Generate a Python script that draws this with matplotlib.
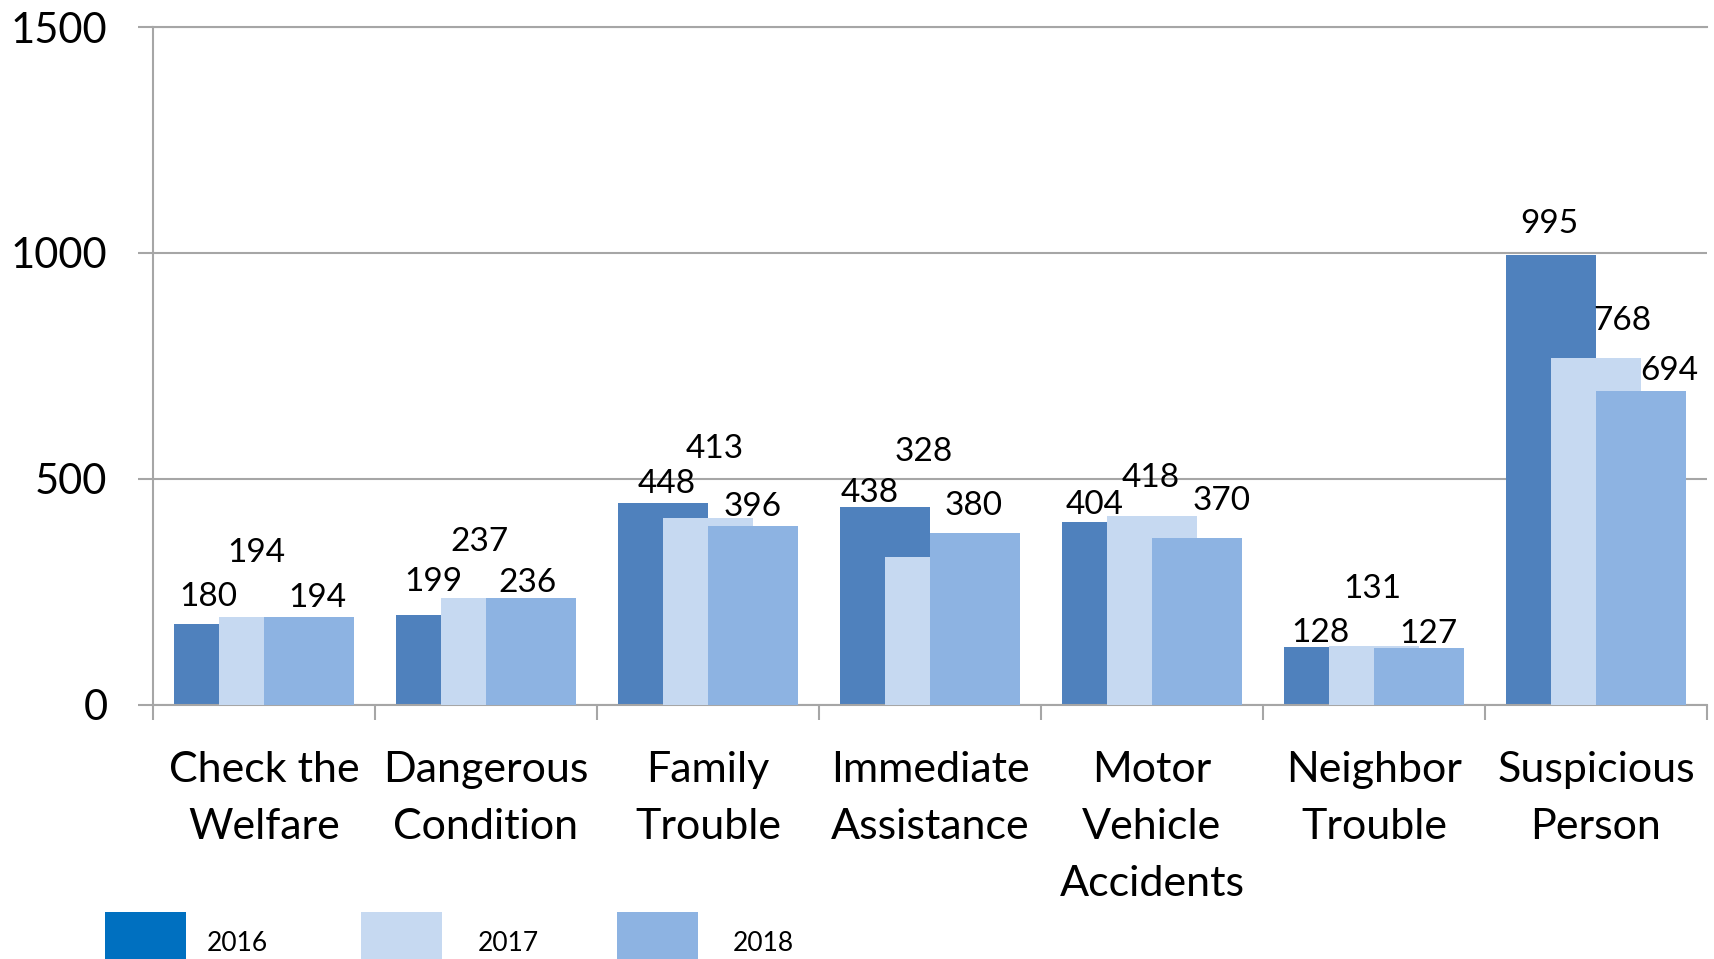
import matplotlib
matplotlib.use('Agg')
import matplotlib.pyplot as plt
from matplotlib.patches import Rectangle
import numpy as np

plt.rcParams['font.family'] = ['Lato', 'DejaVu Sans']

# ---------------- data ----------------
categories = ["Check the\nWelfare", "Dangerous\nCondition", "Family\nTrouble",
              "Immediate\nAssistance", "Motor\nVehicle\nAccidents",
              "Neighbor\nTrouble", "Suspicious\nPerson"]
series_names = ["2016", "2017", "2018"]
values_2016 = [180, 199, 448, 438, 404, 128, 995]
values_2017 = [194, 237, 413, 328, 418, 131, 768]
values_2018 = [194, 236, 396, 380, 370, 127, 694]
y_ticks = [0, 500, 1000, 1500]

# ---------------- style ----------------
bar_colors = ['#4F81BD', '#C6D9F1', '#8DB3E2']
legend_colors = ['#0070C0', '#C6D9F1', '#8DB3E2']
grid_color = '#A6A6A6'
bar_width = 0.405
bar_shift = 0.2027
# data-label placement (pixels: dx, baseline height above bar top)
label_offsets = [
    [(-11, 18), (-8, 24), (4, 10), (-15, 5.5), (-12, 8), (-9, 5), (-1.5, 22)],
    [(-8, 55), (-6, 47), (7, 60), (-6, 96), (-1, 29), (-1.5, 48), (26, 28)],
    [(8, 10.6), (-3, 6), (0, 10), (-1, 18), (25, 28), (9, 5), (28, 11)],
]

W, H = 1714, 959
fig = plt.figure(figsize=(W / 100, H / 100), dpi=100)
ax = fig.add_axes([153 / W, 1 - 705 / H, (1707 - 153) / W, (705 - 27) / H])

series = [values_2016, values_2017, values_2018]
x = np.arange(len(categories))
for i, (vals, col) in enumerate(zip(series, bar_colors)):
    xs = x + (i - 1) * bar_shift
    ax.bar(xs, vals, width=bar_width, color=col, edgecolor='none', zorder=2 + i)
    for j, v in enumerate(vals):
        dx, dy = label_offsets[i][j]
        ax.annotate(str(v), xy=(xs[j], v), xytext=(dx, dy),
                    textcoords='offset pixels', ha='center', va='baseline',
                    fontsize=24, color='black', zorder=10)

ax.set_xlim(-0.5, len(categories) - 0.5)
ax.set_ylim(0, 1500)
ax.set_yticks(y_ticks)
ax.set_yticklabels([str(t) for t in y_ticks], fontsize=30)
ax.yaxis.grid(True, color=grid_color, linewidth=1.5, zorder=0)
ax.set_axisbelow(True)
ax.tick_params(axis='y', length=15 * 0.72, width=1.5, color=grid_color, pad=22)

ax.set_xticks(x)
ax.set_xticklabels(categories, fontsize=31, linespacing=1.62)
ax.set_xticks(np.arange(-0.5, len(categories), 1), minor=True)
ax.tick_params(axis='x', which='major', length=0, pad=33)
ax.tick_params(axis='x', which='minor', length=15 * 0.72, width=1.5, color=grid_color)

ax.spines['right'].set_visible(False)
for s in ['left', 'bottom', 'top']:
    ax.spines[s].set_color(grid_color)
    ax.spines[s].set_linewidth(1.5)

# legend drawn at the bottom-left
leg_patch_x = [105, 361, 617]
leg_text_x = [207, 478, 733]
for name, col, px, tx in zip(series_names, legend_colors, leg_patch_x, leg_text_x):
    fig.patches.append(Rectangle((px / W, 0), 81 / W, (959 - 912) / H,
                                 transform=fig.transFigure, facecolor=col,
                                 edgecolor='none'))
    fig.text(tx / W, 1 - 951 / H, name, fontsize=19, ha='left', va='baseline')

fig.savefig('out.png', dpi=100)
